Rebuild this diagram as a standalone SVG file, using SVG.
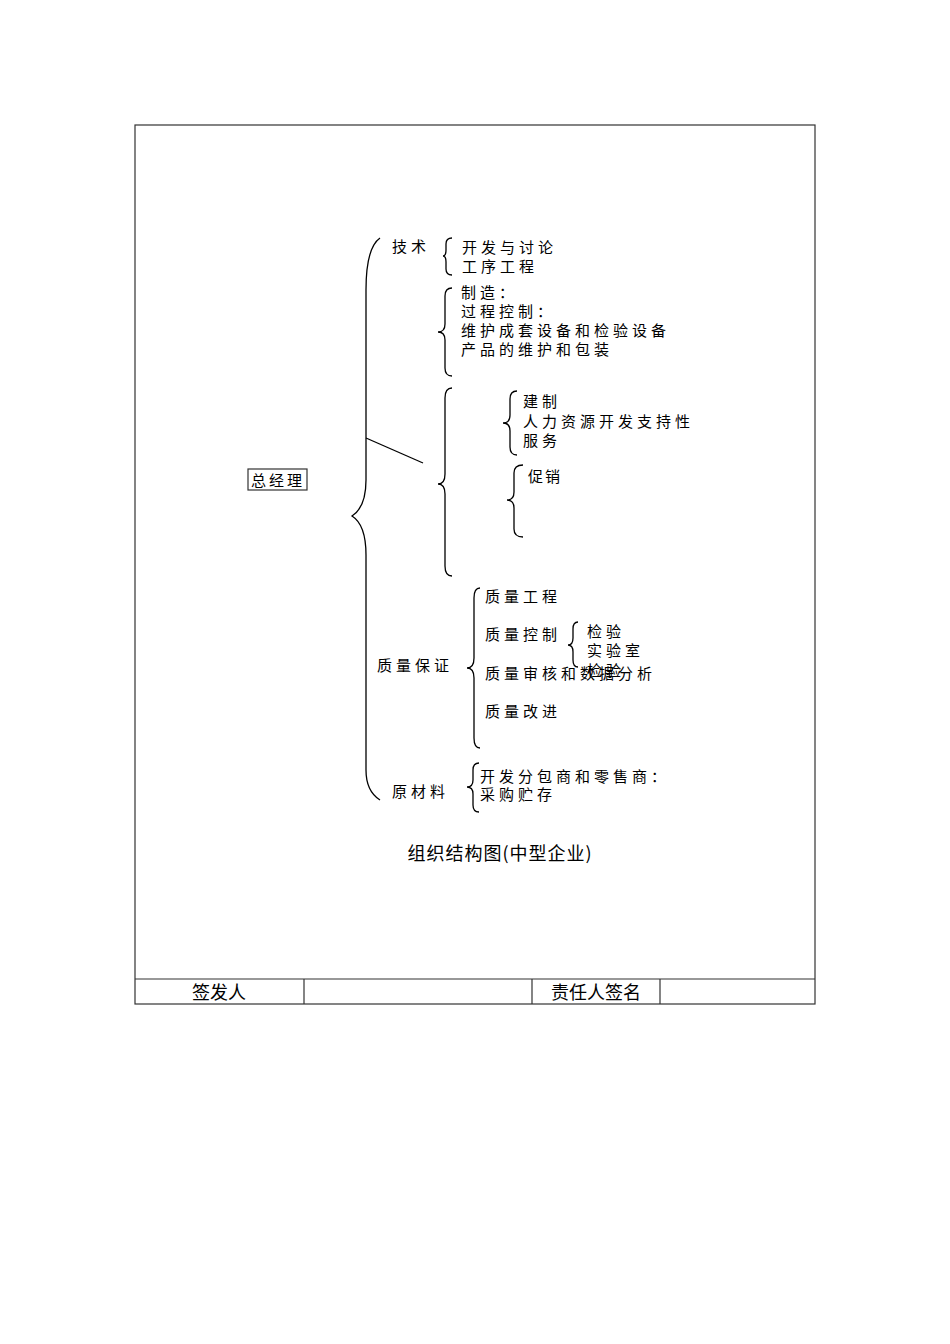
<svg xmlns="http://www.w3.org/2000/svg" width="950" height="1344" viewBox="0 0 950 1344">
<style>
.t{font-family:"Noto Sans CJK SC","Noto Sans CJK JP",sans-serif;font-size:15px;letter-spacing:4px;fill:#000}
.s{font-family:"Noto Sans CJK SC",sans-serif;font-size:18px;letter-spacing:1px;fill:#000}
.f{font-family:"Noto Sans CJK SC",sans-serif;font-size:18px;fill:#000;text-anchor:middle}
.b{fill:none;stroke:#000;stroke-width:1.3}
.frame{fill:none;stroke:#333;stroke-width:1.2}
</style>
<rect width="950" height="1344" fill="#fff"/>
<g id="frame">
<rect class="frame" x="135" y="125" width="680" height="879"/>
<line class="frame" x1="135" y1="979" x2="815" y2="979"/>
<line class="frame" x1="304" y1="979" x2="304" y2="1004"/>
<line class="frame" x1="532" y1="979" x2="532" y2="1004"/>
<line class="frame" x1="660" y1="979" x2="660" y2="1004"/>
<text class="f" x="219" y="999">签发人</text>
<text class="f" x="596" y="999">责任人签名</text>
</g>
<g id="connectors">
<path class="b" d="M380,238 C370,245 366,262 366,290 L366,480 C366,502 360,511 352,516 C360,521 366,532 366,555 L366,770 C366,786 372,795 380,800"/>
<line class="b" x1="366" y1="438" x2="423" y2="463"/>
<path class="b" d="M452,238 Q446,238 446,244 L446,250 Q446,256 443,256 Q446,256 446,262 L446,269 Q446,275 452,275"/>
<path class="b" d="M452,288 Q445,288 445,296 L445,324 Q445,332 438,332 Q445,332 445,340 L445,368 Q445,376 452,376"/>
<path class="b" d="M452,388 Q445,388 445,398 L445,474 Q445,484 438,484 Q445,484 445,494 L445,566 Q445,576 452,576"/>
<path class="b" d="M517,391 Q510,391 510,399 L510,415 Q510,423 503,423 Q510,423 510,431 L510,447 Q510,455 517,455"/>
<path class="b" d="M523,465 Q514,465 514,473 L514,492 Q514,500 507,500 Q514,500 514,508 L514,529 Q514,537 523,537"/>
<path class="b" d="M480,588 Q474,588 474,598 L474,658 Q474,668 467,668 Q474,668 474,678 L474,738 Q474,748 480,748"/>
<path class="b" d="M578,622 Q573,622 573,629 L573,638 Q573,645 568,645 Q573,645 573,652 L573,660 Q573,667 578,667"/>
<path class="b" d="M479,763 Q473,763 473,770 L473,780 Q473,787 467,787 Q473,787 473,794 L473,805 Q473,812 479,812"/>
</g>
<g id="n-zjl">
<rect x="248" y="469" width="59" height="21" fill="none" stroke="#333" stroke-width="1.2"/>
<text class="t" x="251" y="486" style="letter-spacing:3px">总经理</text>
</g>
<g id="n-jishu">
<text class="t" x="392" y="252">技术</text>
<text class="t" x="462" y="253">开发与讨论</text>
<text class="t" x="462" y="272">工序工程</text>
</g>
<g id="n-zhizao">
<text class="t" x="461" y="298">制造：</text>
<text class="t" x="461" y="317">过程控制：</text>
<text class="t" x="461" y="336">维护成套设备和检验设备</text>
<text class="t" x="461" y="355">产品的维护和包装</text>
</g>
<g id="n-jianzhi">
<text class="t" x="523" y="407">建制</text>
<text class="t" x="523" y="427">人力资源开发支持性</text>
<text class="t" x="523" y="446">服务</text>
</g>
<g id="n-cuxiao">
<text class="t" x="528" y="482" style="letter-spacing:2px">促销</text>
</g>
<g id="n-zlbz">
<text class="t" x="377" y="671">质量保证</text>
<text class="t" x="485" y="602">质量工程</text>
<text class="t" x="485" y="640">质量控制</text>
<text class="t" x="587" y="637">检验</text>
<text class="t" x="587" y="656">实验室</text>
<text class="t" x="587" y="676">检验</text>
<text class="t" x="485" y="679">质量审核和数据分析</text>
<text class="t" x="485" y="717">质量改进</text>
</g>
<g id="n-ycl">
<text class="t" x="392" y="797">原材料</text>
<text class="t" x="480" y="782">开发分包商和零售商：</text>
<text class="t" x="480" y="800">采购贮存</text>
</g>
<g id="title">
<text class="s" x="500" y="860" text-anchor="middle">组织结构图(中型企业)</text>
</g>
</svg>
